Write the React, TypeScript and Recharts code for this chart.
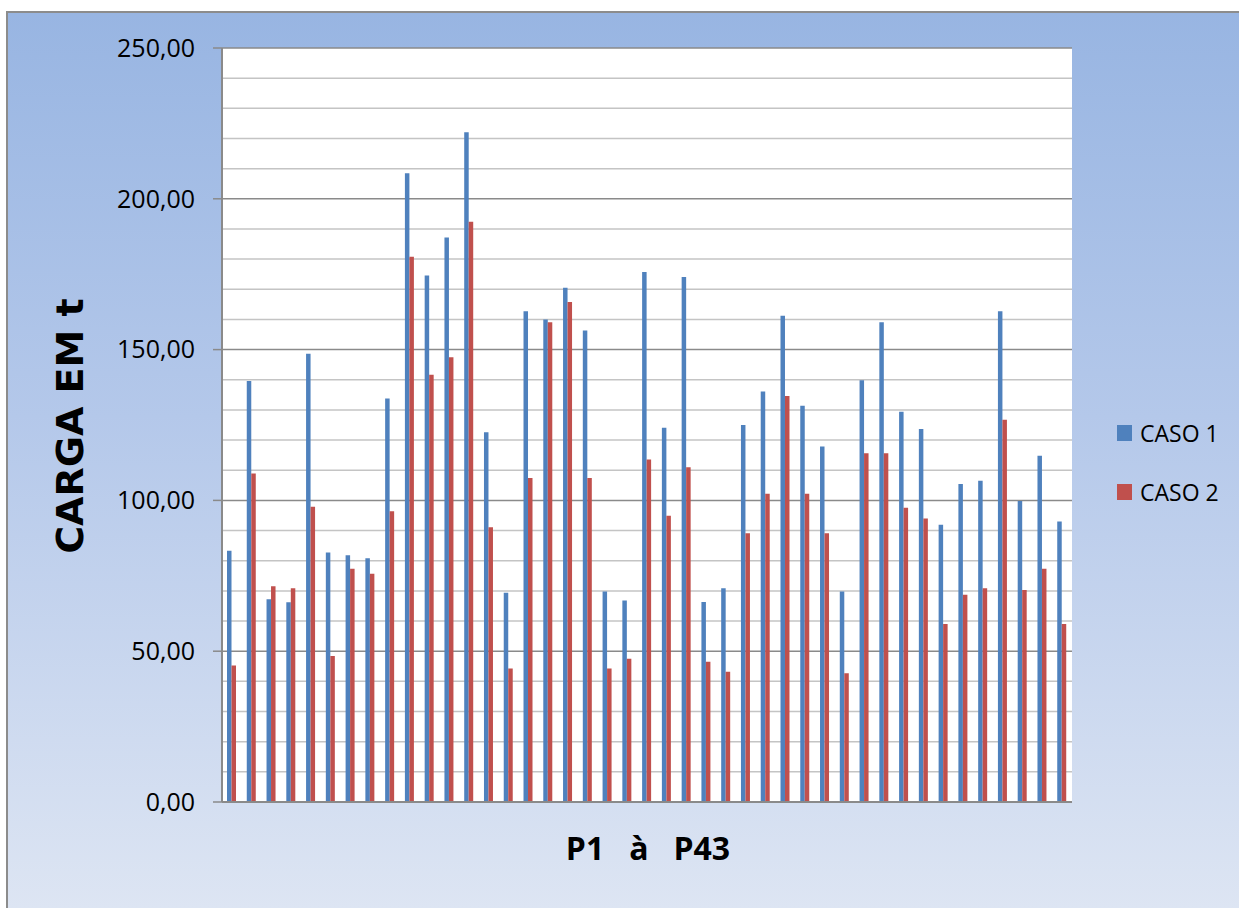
import { Bar, BarChart, CartesianGrid, XAxis, YAxis } from "recharts";

const categories = [
  "P1", "P2", "P3", "P4", "P5", "P6", "P7", "P8", "P9", "P10",
  "P11", "P12", "P13", "P14", "P15", "P16", "P17", "P18", "P19", "P20",
  "P21", "P22", "P23", "P24", "P25", "P26", "P27", "P28", "P29", "P30",
  "P31", "P32", "P33", "P34", "P35", "P36", "P37", "P38", "P39", "P40",
  "P41", "P42", "P43",
];

const caso1 = [
  83.3, 139.6, 67.2, 66.2, 148.6, 82.7, 81.8, 80.8, 133.8, 208.5,
  174.6, 187.2, 222.1, 122.6, 69.4, 162.7, 160.0, 170.5, 156.3, 69.8,
  66.8, 175.7, 124.1, 174.1, 66.3, 70.9, 125.0, 136.1, 161.2, 131.4,
  117.9, 69.8, 139.8, 159.1, 129.4, 123.7, 91.9, 105.4, 106.5, 162.7,
  99.8, 114.8, 93.0,
];

const caso2 = [
  45.3, 108.9, 71.5, 70.9, 97.9, 48.4, 77.3, 75.7, 96.4, 180.8,
  141.7, 147.5, 192.4, 91.1, 44.3, 107.4, 159.1, 165.8, 107.4, 44.3,
  47.5, 113.6, 94.9, 111.0, 46.5, 43.2, 89.1, 102.2, 134.6, 102.2,
  89.1, 42.7, 115.6, 115.6, 97.6, 94.0, 59.0, 68.7, 70.9, 126.7,
  70.3, 77.3, 59.0,
];

const yTicks = [0, 50, 100, 150, 200, 250];
const minorGrid = [10, 20, 30, 40, 60, 70, 80, 90, 110, 120, 130, 140, 160, 170, 180, 190, 210, 220, 230, 240];
const majorGrid = [50, 100, 150, 200, 250];

const series = [
  { key: "caso1", label: "CASO 1", color: "#4f81bd" },
  { key: "caso2", label: "CASO 2", color: "#c0504d" },
];

const data = categories.map((name, i) => ({ name, caso1: caso1[i], caso2: caso2[i] }));

const fmt = (v: number) => v.toFixed(2).replace(".", ",");

function YLabel({ viewBox }: any) {
  const x = 75;
  const y = viewBox.y + viewBox.height / 2 + 1;
  return (
    <text
      x={x}
      y={y}
      transform={`rotate(-90, ${x}, ${y})`}
      textAnchor="middle"
      fontFamily="DejaVu Sans"
      fontWeight="bold"
      fontSize={38}
      fill="#000"
    >
      CARGA EM t
    </text>
  );
}

function XLabel({ viewBox }: any) {
  const x = viewBox.x + viewBox.width / 2 + 1;
  return (
    <text
      x={x}
      y={847}
      textAnchor="middle"
      fontFamily="Open Sans"
      fontWeight="bold"
      fontSize={32}
      fill="#000"
      style={{ whiteSpace: "pre" }}
    >
      {"P1   à   P43"}
    </text>
  );
}

export default function App() {
  return (
    <div
      style={{
        position: "absolute",
        left: 6,
        top: 11,
        width: 1233,
        height: 897,
        boxSizing: "border-box",
        borderTop: "2px solid #8c8c8c",
        borderLeft: "2px solid #8c8c8c",
        background: "linear-gradient(to bottom, #98b5e2 0%, #b4c8ea 45%, #dde5f3 100%)",
        overflow: "hidden",
      }}
    >
      <BarChart
        width={1231}
        height={895}
        data={data}
        margin={{ top: 35, right: 167, left: 94, bottom: 46 }}
        barCategoryGap="27%"
        barGap={0}
      >
        <CartesianGrid
          horizontalValues={minorGrid}
          vertical={false}
          stroke="#c4c4c4"
          strokeWidth={1.5}
          fill="#ffffff"
          fillOpacity={1}
        />
        <CartesianGrid horizontalValues={majorGrid} vertical={false} stroke="#8a8a8a" strokeWidth={1.5} />
        <XAxis
          dataKey="name"
          tick={false}
          tickLine={false}
          axisLine={{ stroke: "#8a8a8a", strokeWidth: 2 }}
          height={60}
          label={<XLabel />}
        />
        <YAxis
          domain={[0, 250]}
          ticks={yTicks}
          interval={0}
          width={120}
          tickFormatter={fmt}
          tickSize={9}
          tickMargin={18}
          tickLine={{ stroke: "#8a8a8a", strokeWidth: 1.5 }}
          axisLine={{ stroke: "#8a8a8a", strokeWidth: 2 }}
          tick={{ fill: "#000", fontSize: 25, fontFamily: "Open Sans" }}
          label={<YLabel />}
        />
        {series.map((s) => (
          <Bar key={s.key} dataKey={s.key} fill={s.color} barSize={4.5} isAnimationActive={false} />
        ))}
      </BarChart>
      <div style={{ position: "absolute", left: 1109, top: 390 }}>
        {series.map((s) => (
          <div key={s.key} style={{ display: "flex", alignItems: "center", height: 59 }}>
            <span style={{ width: 15, height: 16, background: s.color, marginRight: 8, display: "inline-block" }} />
            <span style={{ fontFamily: "Open Sans", fontSize: 23, color: "#000" }}>{s.label}</span>
          </div>
        ))}
      </div>
    </div>
  );
}
